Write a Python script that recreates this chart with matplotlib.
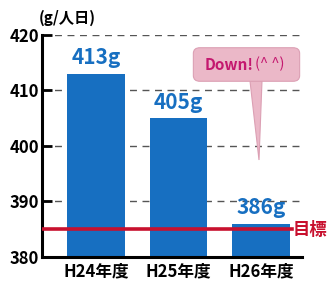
import matplotlib
matplotlib.use("Agg")
import matplotlib.pyplot as plt
from matplotlib.patches import FancyBboxPatch, Polygon

plt.rcParams['font.family'] = ['Noto Sans CJK JP', 'DejaVu Sans']

categories = ["H24年度", "H25年度", "H26年度"]
values = [413, 405, 386]
value_labels = ["413g", "405g", "386g"]
target = 385
yticks = [380, 390, 400, 410, 420]
unit = "(g/人日)"
target_label = "目標"
callout_main = "Down!"
callout_face = "(^ ^)"

bar_color = "#176fc1"
red = "#c8102e"

fig = plt.figure(figsize=(3.3, 2.85), dpi=100)
ax = fig.add_axes([42/330, 28/285, 260/330, 222/285])

x = list(range(len(categories)))
ax.bar(x, [v - 380 for v in values], bottom=380, width=0.70, color=bar_color, zorder=2)
ax.set_xlim(-0.655, 2.497)
ax.set_ylim(380, 420)

for yv in yticks[1:]:
    ax.axhline(yv, color="#555555", lw=1.0, ls=(0, (5, 4)), zorder=1)

ax.axhline(target, xmin=0, xmax=(2.37 + 0.655) / (2.497 + 0.655), color=red, lw=2.6, zorder=3)

for xi, v, lab in zip(x, values, value_labels):
    ax.text(xi, v + 1.0, lab, ha="center", va="bottom", color=bar_color,
            fontsize=15, fontweight="bold", zorder=4)

ax.set_yticks(yticks)
ax.set_yticklabels([str(t) for t in yticks], fontsize=12, fontweight="bold")
ax.set_xticks(x)
ax.set_xticklabels(categories, fontsize=12, fontweight="bold")
ax.tick_params(axis="y", direction="in", length=7, width=2, pad=2)
ax.tick_params(axis="x", length=0, pad=4)
for s in ["top", "right"]:
    ax.spines[s].set_visible(False)
for s in ["left", "bottom"]:
    ax.spines[s].set_linewidth(2.2)

fig.text(39/330, 1 - 18/285, unit, ha="left", va="center", fontsize=11, fontweight="bold")
fig.text(293/330, 1 - 230/285, target_label, ha="left", va="center", fontsize=12.5,
         fontweight="bold", color=red)

# callout
pink = "#ebb8c8"
edge = "#dca0b4"
tail = Polygon([(250/330, 1 - 81/285), (262/330, 1 - 81/285), (259/330, 1 - 160/285)],
               closed=True, transform=fig.transFigure, facecolor=pink, edgecolor=edge, lw=0.8, zorder=5)
fig.add_artist(tail)
box = FancyBboxPatch((196/330, 1 - 79/285), 101/330, 29/285,
                     boxstyle="round,pad=0.008,rounding_size=0.02",
                     transform=fig.transFigure, facecolor=pink, edgecolor=edge, lw=0.8, zorder=6)
fig.add_artist(box)
fig.text(253/330, 1 - 65/285, callout_main, ha="right", va="center", fontsize=11,
         fontweight="bold", color="#c4186f", zorder=7)
fig.text(255/330, 1 - 64/285, callout_face, ha="left", va="center", fontsize=10.5,
         color="#c4186f", zorder=7)

fig.savefig("out.png", dpi=100)
